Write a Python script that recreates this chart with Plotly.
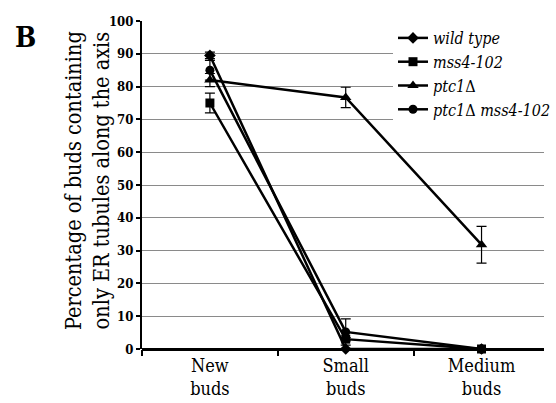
import plotly.graph_objects as go

categories = ["New<br>buds", "Small<br>buds", "Medium<br>buds"]
series_names = ["<i>wild type</i>", "<i>mss4-102</i>", "<i>ptc1</i>Δ", "<i>ptc1</i>Δ <i>mss4-102</i>"]
wild_type = [89.5, 0.0, 0.0]
wild_type_err = [1.0, 0.0, 0.0]
mss4 = [75.0, 3.0, 0.0]
mss4_err = [3.0, 0.5, 0.0]
ptc1 = [82.0, 76.7, 31.8]
ptc1_err = [2.0, 3.1, 5.6]
ptc1_mss4 = [85.0, 5.2, 0.0]
ptc1_mss4_err = [3.0, 4.0, 0.0]
symbols = ["diamond", "square", "triangle-up", "circle"]
y_ticks = [0, 10, 20, 30, 40, 50, 60, 70, 80, 90, 100]
y_title = "Percentage of buds containing<br>only ER tubules along the axis"

SERIF = "DejaVu Serif Condensed, DejaVu Serif, serif"

fig = go.Figure()
for name, vals, errs, sym in zip(series_names,
                                 [wild_type, mss4, ptc1, ptc1_mss4],
                                 [wild_type_err, mss4_err, ptc1_err, ptc1_mss4_err],
                                 symbols):
    fig.add_trace(go.Scatter(
        x=categories, y=vals, name=name, mode="lines+markers",
        line=dict(color="black", width=2.5),
        marker=dict(symbol=sym, size=9 if sym != "triangle-up" else 10, color="black"),
        error_y=dict(type="data", array=errs, color="black", thickness=1.2, width=5),
        cliponaxis=False,
    ))

fig.update_layout(
    width=556, height=403,
    margin=dict(l=142, r=0, t=21, b=54),
    paper_bgcolor="white", plot_bgcolor="white",
    font=dict(family=SERIF, color="black"),
    showlegend=True,
    legend=dict(x=0.625, y=1.0, xanchor="left", yanchor="top",
                bgcolor="white", font=dict(size=16, family=SERIF),
                itemwidth=30, tracegroupgap=0),
    xaxis=dict(type="category", range=[-0.5, 2.46], showgrid=False, automargin=False,
               showline=False, ticks="outside", tickson="boundaries",
               ticklen=6, tickwidth=2, tickcolor="black", ticklabelstandoff=4,
               tickfont=dict(size=18, family=SERIF), zeroline=False),
    yaxis=dict(range=[0, 100], tickvals=y_ticks, showgrid=True, automargin=False,
               gridcolor="#8a8a8a", gridwidth=1,
               showline=True, linecolor="black", linewidth=2,
               ticks="outside", ticklen=4, tickcolor="black", tickwidth=1.5,
               tickfont=dict(size=13, family=SERIF, weight="bold"),
               zeroline=True, zerolinecolor="black", zerolinewidth=2.5),
)
fig.add_annotation(text=y_title, xref="paper", yref="paper", x=-0.137, y=0.515,
                   xanchor="center", yanchor="middle", textangle=-90, showarrow=False,
                   font=dict(size=21.5, family=SERIF))
fig.add_annotation(text="<b>B</b>", xref="paper", yref="paper", x=-0.29, y=0.951,
                   xanchor="center", yanchor="middle", showarrow=False,
                   font=dict(size=28, family=SERIF))
fig.write_html("out.html", config={"displayModeBar": False},
               post_script="document.body.style.margin='0';")
